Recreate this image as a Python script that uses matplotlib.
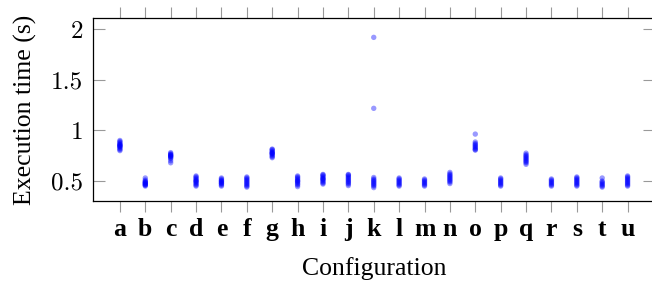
import matplotlib
matplotlib.use("Agg")
import matplotlib.pyplot as plt

categories = list("abcdefghijklmnopqrstu")

times = {
    "a": [0.80, 0.81, 0.82, 0.83, 0.84, 0.84, 0.85, 0.85, 0.86, 0.86, 0.87, 0.88, 0.89, 0.90],
    "b": [0.45, 0.46, 0.46, 0.47, 0.47, 0.48, 0.48, 0.49, 0.49, 0.50, 0.51, 0.53],
    "c": [0.68, 0.70, 0.72, 0.73, 0.74, 0.74, 0.75, 0.75, 0.76, 0.76, 0.77, 0.78],
    "d": [0.45, 0.46, 0.47, 0.48, 0.49, 0.50, 0.50, 0.51, 0.52, 0.53, 0.54, 0.55],
    "e": [0.45, 0.46, 0.47, 0.48, 0.48, 0.49, 0.50, 0.50, 0.51, 0.52, 0.53],
    "f": [0.44, 0.45, 0.46, 0.47, 0.48, 0.49, 0.50, 0.51, 0.52, 0.53, 0.54],
    "g": [0.73, 0.74, 0.75, 0.76, 0.77, 0.77, 0.78, 0.78, 0.79, 0.80, 0.81, 0.815],
    "h": [0.445, 0.46, 0.47, 0.48, 0.49, 0.50, 0.50, 0.51, 0.52, 0.53, 0.54, 0.55],
    "i": [0.47, 0.48, 0.49, 0.50, 0.51, 0.52, 0.52, 0.53, 0.54, 0.55, 0.56, 0.565],
    "j": [0.455, 0.47, 0.48, 0.49, 0.50, 0.51, 0.52, 0.53, 0.54, 0.55, 0.56, 0.565],
    "k": [0.435, 0.45, 0.46, 0.47, 0.48, 0.49, 0.50, 0.51, 0.52, 0.535, 1.217, 1.917],
    "l": [0.45, 0.46, 0.47, 0.48, 0.49, 0.50, 0.51, 0.52, 0.53],
    "m": [0.45, 0.46, 0.47, 0.48, 0.49, 0.50, 0.51, 0.52],
    "n": [0.475, 0.49, 0.50, 0.51, 0.52, 0.53, 0.54, 0.55, 0.56, 0.57, 0.585],
    "o": [0.805, 0.81, 0.82, 0.83, 0.84, 0.85, 0.86, 0.87, 0.885, 0.963],
    "p": [0.45, 0.46, 0.47, 0.48, 0.49, 0.50, 0.51, 0.52, 0.53],
    "q": [0.665, 0.68, 0.69, 0.70, 0.71, 0.72, 0.73, 0.74, 0.75, 0.76, 0.775],
    "r": [0.45, 0.46, 0.47, 0.48, 0.49, 0.50, 0.51, 0.52],
    "s": [0.45, 0.46, 0.47, 0.48, 0.49, 0.50, 0.51, 0.52, 0.53, 0.54],
    "t": [0.44, 0.45, 0.46, 0.47, 0.48, 0.49, 0.50, 0.53],
    "u": [0.45, 0.46, 0.47, 0.48, 0.49, 0.50, 0.51, 0.52, 0.53, 0.54, 0.55],
}

yticks = [0.5, 1.0, 1.5, 2.0]
ytick_labels = ["0.5", "1", "1.5", "2"]

plt.rcParams["axes.formatter.use_mathtext"] = True
plt.rcParams["mathtext.fontset"] = "cm"

W, H = 652, 282
fig = plt.figure(figsize=(W / 100, H / 100), dpi=100)
ax = fig.add_axes([93 / W, 1 - 201 / H, (655 - 93) / W, (201 - 18) / H])

for i, c in enumerate(categories):
    vals = times[c]
    ax.scatter([i] * len(vals), vals, s=15, color=(0, 0, 1), alpha=0.4,
               edgecolors="none", zorder=3)

ax.set_xlim(-1.06, 21.08)
ax.set_ylim(0.303, 2.108)
ax.set_xticks(range(len(categories)))
ax.set_xticklabels(categories, fontfamily="Liberation Serif", fontweight="bold",
                   fontsize=18.5)
ax.set_yticks(yticks)
ax.set_yticklabels(ytick_labels, fontfamily="cmr10", fontsize=18)

ax.tick_params(axis="x", direction="out", length=8, width=0.8, color="#999999",
               top=True, bottom=True, pad=4)
ax.tick_params(axis="y", direction="in", length=8.5, width=0.8, color="#999999",
               left=True, right=True, pad=7)
for sp in ax.spines.values():
    sp.set_linewidth(0.9)
    sp.set_color("black")

ax.set_xlabel("Configuration", fontfamily="Liberation Serif", fontsize=18.5,
              labelpad=12)
ax.set_ylabel("Execution time (s)", fontfamily="Liberation Serif", fontsize=18.5,
              labelpad=10)

fig.savefig("out.png", dpi=100)
